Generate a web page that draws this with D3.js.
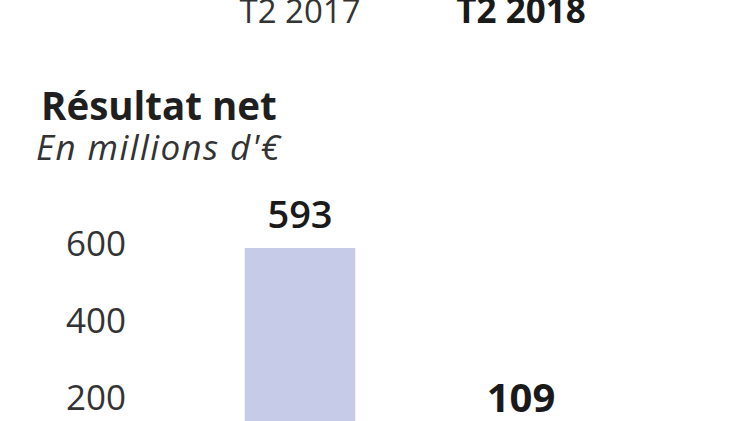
<!DOCTYPE html>
<html><head><meta charset="utf-8">
<script src="https://cdn.jsdelivr.net/npm/d3@7"></script>
<style>
html,body{margin:0;padding:0;background:#fff;}
svg{display:block;}
text{font-family:"Open Sans",sans-serif;}
</style></head>
<body>
<svg id="chart" width="749" height="421"></svg>
<script>
const categories = ["T2 2017", "T2 2018"];
const values = [593, 109];
const tickValues = [200, 400, 600];
const barColors = ["#c6cce8", "#4a64b0"];
const title = "Résultat net";
const subtitle = "En millions d'€";

const svg = d3.select("#chart");

const x = d3.scaleBand().domain(categories).range([189.5, 631.5]).paddingInner(0.5).paddingOuter(0.25);
const y = d3.scaleLinear().domain([0, 600]).range([476.3, 245.3]);

// column headers
svg.selectAll("text.head").data(categories).join("text")
  .attr("class","head")
  .attr("x", d => x(d) + x.bandwidth()/2)
  .attr("y", 23)
  .attr("text-anchor","middle")
  .attr("font-size", (d,i) => i === 1 ? 35 : 33)
  .attr("font-weight", (d,i) => i === 1 ? 700 : 400)
  .attr("fill", (d,i) => i === 1 ? "#1a1a1a" : "#333")
  .text(d => d);

// title
svg.append("text").attr("x", 41).attr("y", 120)
  .attr("font-size", 38.5).attr("font-weight", 700).attr("fill", "#1f1f1f").text(title);
svg.append("text").attr("x", 36).attr("y", 160)
  .attr("font-size", 35).attr("font-style", "italic").attr("letter-spacing", 1.4)
  .attr("fill", "#333").text(subtitle);

// bars
svg.selectAll("rect.bar").data(values).join("rect")
  .attr("class","bar")
  .attr("x", (d,i) => x(categories[i]))
  .attr("width", x.bandwidth())
  .attr("y", d => y(d))
  .attr("height", d => y(0) - y(d))
  .attr("fill", (d,i) => barColors[i]);

// value labels
svg.selectAll("text.val").data(values).join("text")
  .attr("class","val")
  .attr("x", (d,i) => x(categories[i]) + x.bandwidth()/2)
  .attr("y", (d,i) => y(d) - (i === 1 ? 22 : 20))
  .attr("text-anchor","middle")
  .attr("font-size", (d,i) => i === 1 ? 40 : 38)
  .attr("font-weight", (d,i) => i === 1 ? 700 : 600)
  .attr("fill", "#1a1a1a")
  .text(d => d);

// y axis
const axis = d3.axisLeft(y).tickValues(tickValues).tickSize(0).tickPadding(0).tickFormat(d3.format("d"));
const g = svg.append("g").attr("transform", "translate(126,0)").call(axis);
g.select(".domain").remove();
g.selectAll("text").attr("font-family", "Open Sans, sans-serif").attr("font-size", 35)
  .attr("fill", "#333").attr("dy", "0.28em");
</script>
</body></html>
